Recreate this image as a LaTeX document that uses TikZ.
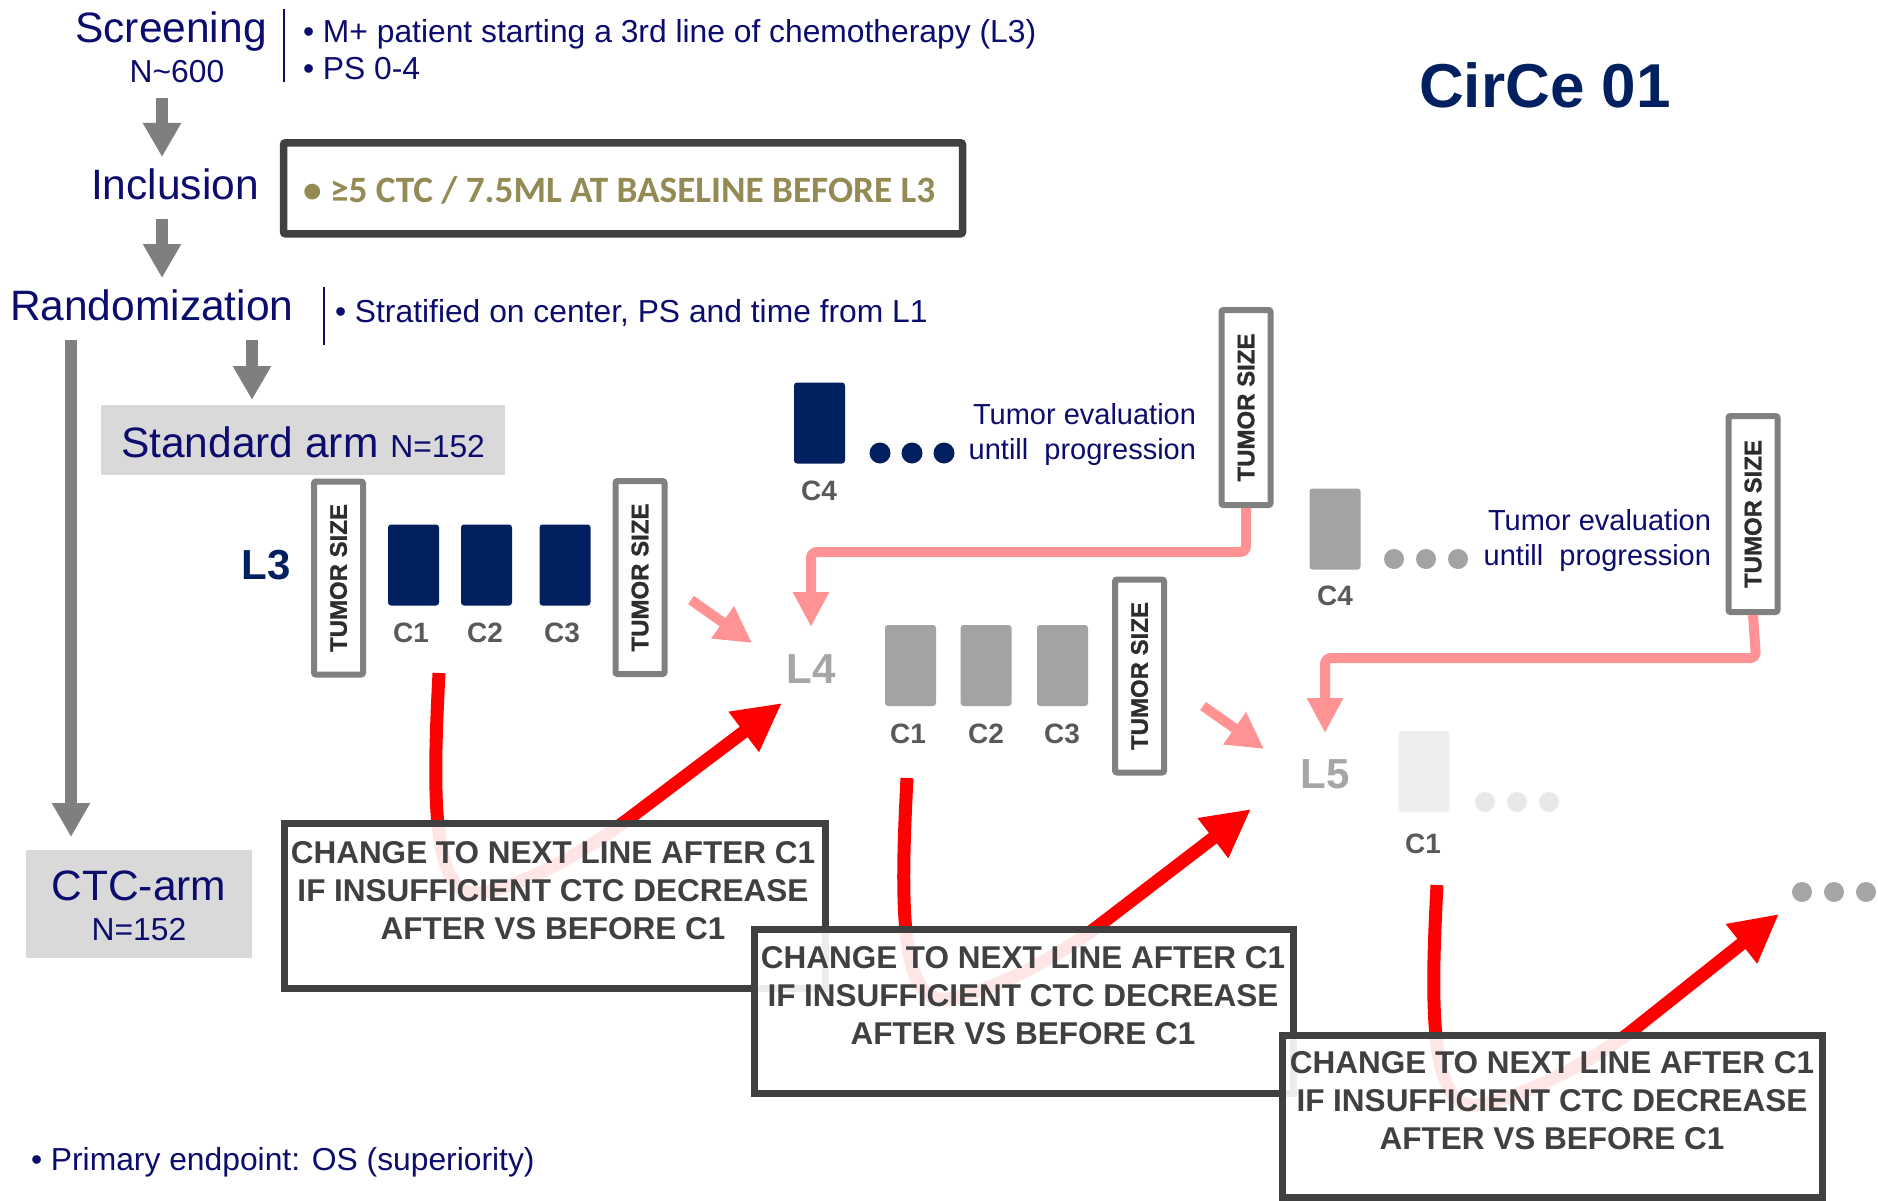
\documentclass[tikz,border=0pt]{standalone}
\usepackage{fontspec}
\setmainfont{Liberation Sans}
\newfontfamily\calib{Carlito}
\newfontface\tsfont{Liberation Sans Bold}[FakeBold=1.2]
\usetikzlibrary{arrows.meta}
\definecolor{navytxt}{RGB}{12,12,110}
\definecolor{navyfill}{RGB}{0,32,96}
\definecolor{arrowgray}{RGB}{127,127,127}
\definecolor{darkbox}{RGB}{64,64,64}
\definecolor{olive}{RGB}{148,138,84}
\definecolor{pinkc}{RGB}{255,147,147}
\definecolor{armfill}{RGB}{217,217,217}
\definecolor{tsgray}{RGB}{128,128,128}
\definecolor{labgray}{RGB}{89,89,89}
\definecolor{cycgray}{RGB}{163,163,163}
\definecolor{lgray}{RGB}{166,166,166}
\definecolor{paler}{RGB}{238,238,238}
\definecolor{palerdot}{RGB}{232,232,232}
\definecolor{tstxt}{RGB}{45,45,45}
\tikzset{
  txt/.style={inner sep=0pt, outer sep=0pt, text=navytxt},
  bigf/.style={font=\fontsize{42.5}{50}\selectfont},
  midf/.style={font=\fontsize{31.8}{37}\selectfont},
  grayarrow/.style={draw=arrowgray, line width=11.5pt, -{Triangle[length=34pt,width=36pt]}},
  navyrule/.style={draw=navytxt, line width=2.5pt},
  tsbox/.style={draw=tsgray, line width=6pt, fill=white, rounded corners=2pt, minimum width=49pt, minimum height=193pt, inner sep=0pt, text=tstxt, font=\tsfont\fontsize{24}{28}\selectfont},
  cyc/.style={rounded corners=3pt, minimum width=51pt, minimum height=81pt, inner sep=0pt},
  clab/.style={inner sep=0pt, text=labgray, font=\fontsize{28}{32}\selectfont\bfseries, anchor=base},
  dotn/.style={circle, minimum size=21pt, inner sep=0pt},
  lineid/.style={inner sep=0pt, font=\fontsize{42}{50}\selectfont\bfseries, anchor=base},
  evaltxt/.style={txt, font=\fontsize{29}{35}\selectfont, anchor=base east},
  chgbox/.style={draw=darkbox, line width=7pt, fill=white, fill opacity=0.9, draw opacity=1, inner sep=0pt},
  chgtxt/.style={inner sep=0pt, align=center, text=darkbox, font=\fontsize{31.5}{38}\selectfont\bfseries},
  redcurve/.style={draw=red, line width=13pt, -{Triangle[length=48pt,width=47pt]}},
  pinkarrow/.style={draw=pinkc, line width=10pt, -{Triangle[length=36pt,width=37pt]}},
  pinkelbow/.style={draw=pinkc, line width=10pt, rounded corners=6pt, -{Triangle[length=35pt,width=34pt]}},
}
\begin{document}
\begin{tikzpicture}[x=1pt,y=-1pt]
\fill[white] (0,0) rectangle (1878,1201);
\useasboundingbox (0,0) rectangle (1878,1201);

% ---------- red curves (under the boxes) ----------
\coordinate (rc1s) at (439,673);
\coordinate (rc1t) at (782,703);
\coordinate (rc2s) at (907,778);
\coordinate (rc2t) at (1251,809);
\coordinate (rc3s) at (1437,885);
\coordinate (rc3t) at (1779,914);
\draw[redcurve] (rc1s) .. controls (433,790) and (430,900) .. (480,893)
  .. controls (520,887) and (580,855) .. (627,820) -- (rc1t);
\draw[redcurve] (rc2s) .. controls (901,895) and (898,1006) .. (947,999)
  .. controls (987,993) and (1050,962) .. (1097,927) -- (rc2t);
\draw[redcurve] (rc3s) .. controls (1431,1000) and (1428,1112) .. (1478,1105)
  .. controls (1518,1099) and (1580,1068) .. (1628,1034) -- (rc3t);

% ---------- decision boxes ----------
\node[chgbox, minimum width=541pt, minimum height=165pt] (cb1) at (555,906) {};
\node[chgbox, minimum width=539pt, minimum height=164pt] (cb2) at (1024,1011) {};
\node[chgbox, minimum width=540pt, minimum height=162pt] (cb3) at (1552.5,1116.5) {};
\node[chgtxt] (cb1t) at (553,891) {CHANGE TO NEXT LINE AFTER C1\\IF INSUFFICIENT CTC DECREASE\\AFTER VS BEFORE C1};
\node[chgtxt] (cb2t) at (1023,996) {CHANGE TO NEXT LINE AFTER C1\\IF INSUFFICIENT CTC DECREASE\\AFTER VS BEFORE C1};
\node[chgtxt] (cb3t) at (1552,1101) {CHANGE TO NEXT LINE AFTER C1\\IF INSUFFICIENT CTC DECREASE\\AFTER VS BEFORE C1};

% ---------- header ----------
\node[txt, bigf, anchor=base] (scr) at (171,43) {Screening};
\node[txt, midf, anchor=base] (n600) at (177,83) {N\textasciitilde600};
\draw[navyrule] (284,9) -- (284,82);
\node[txt, midf, anchor=base west] (crit1) at (303,43) {\textbullet\ M+ patient starting a 3rd line of chemotherapy (L3)};
\node[txt, midf, anchor=base west] (crit2) at (303,80) {\textbullet\ PS 0-4};

\node[txt, bigf, anchor=base] (incl) at (175,200) {Inclusion};
\node[draw=darkbox, line width=7.5pt, rounded corners=2pt, minimum width=679pt, minimum height=91pt, inner sep=0pt] (inclbox) at (623,188.3) {};
\node[inner sep=0pt, anchor=base west, text=olive, font=\calib\fontsize{37.2}{42}\selectfont\bfseries] (incltxt) at (303,202) {\textbullet\ ≥5 CTC / 7.5ML AT BASELINE BEFORE L3};

\node[txt, bigf, anchor=base west] (rand) at (10,320) {Randomization};
\draw[navyrule] (324,287) -- (324,345);
\node[txt, midf, anchor=base west] (strat) at (335,322) {\textbullet\ Stratified on center, PS and time from L1};

\node[inner sep=0pt, anchor=base, text=navyfill, font=\fontsize{62}{70}\selectfont\bfseries] (title) at (1545,108) {CirCe 01};

% gray arrows
\coordinate (ga1s) at (162,98);  \coordinate (ga1t) at (162,157);
\coordinate (ga2s) at (162,219); \coordinate (ga2t) at (162,278);
\coordinate (ga3s) at (71,340);  \coordinate (ga3t) at (71,837);
\coordinate (ga4s) at (252,340); \coordinate (ga4t) at (252,400);
\draw[grayarrow] (ga1s) -- (ga1t);
\draw[grayarrow] (ga2s) -- (ga2t);
\draw[grayarrow] (ga3s) -- (ga3t);
\draw[grayarrow] (ga4s) -- (ga4t);

% arms
\node[fill=armfill, minimum width=404pt, minimum height=70pt, inner sep=0pt] (std) at (303,440) {};
\node[txt, bigf, anchor=base west] (stdt) at (121,457) {Standard arm {\fontsize{31.8}{37}\selectfont N=152}};
\node[fill=armfill, minimum width=226pt, minimum height=108pt, inner sep=0pt] (ctc) at (139,904) {};
\node[txt, bigf, anchor=base] (ctct) at (139,900) {CTC-arm};
\node[txt, midf, anchor=base] (ctcn) at (139,940) {N=152};

% ---------- L3 ----------
\node[lineid, text=navyfill] (l3) at (266,579) {L3};
\node[tsbox] (ts1) at (338.5,578) {\rotatebox{90}{TUMOR SIZE}};
\node[cyc, fill=navyfill] (l3c1) at (413.5,565) {};
\node[cyc, fill=navyfill] (l3c2) at (486.5,565) {};
\node[cyc, fill=navyfill] (l3c3) at (565,565) {};
\node[clab] (l3c1t) at (411,642) {C1};
\node[clab] (l3c2t) at (485,642) {C2};
\node[clab] (l3c3t) at (562,642) {C3};
\node[tsbox] (ts2) at (640,577.5) {\rotatebox{90}{TUMOR SIZE}};

\node[cyc, fill=navyfill] (l3c4) at (819.5,423) {};
\node[clab] (l3c4t) at (819,500) {C4};
\node[dotn, fill=navyfill] (nd1) at (880,453) {};
\node[dotn, fill=navyfill] (nd2) at (912,453) {};
\node[dotn, fill=navyfill] (nd3) at (944,453) {};
\node[evaltxt] (ev1a) at (1196,424) {Tumor evaluation};
\node[evaltxt] (ev1b) at (1196,459) {untill~~progression};
\node[tsbox, minimum height=195pt] (ts3) at (1246,407.5) {\rotatebox{90}{TUMOR SIZE}};

% ---------- L4 ----------
\node[lineid, text=lgray] (l4) at (811,683) {L4};
\coordinate (l4tip) at (811,627);
\draw[pinkelbow] (ts3.south) -- (1246,552) -| (l4tip);
\coordinate (pa1s) at (691,600); \coordinate (pa1t) at (752,643);
\draw[pinkarrow] (pa1s) -- (pa1t);
\node[cyc, fill=cycgray] (l4c1) at (910.5,665.5) {};
\node[cyc, fill=cycgray] (l4c2) at (986,665.5) {};
\node[cyc, fill=cycgray] (l4c3) at (1062.5,665.5) {};
\node[clab] (l4c1t) at (908,743) {C1};
\node[clab] (l4c2t) at (986,743) {C2};
\node[clab] (l4c3t) at (1062,743) {C3};
\node[tsbox] (ts4) at (1139.5,676) {\rotatebox{90}{TUMOR SIZE}};

\node[cyc, fill=cycgray] (l4c4) at (1335,529) {};
\node[clab] (l4c4t) at (1335,605) {C4};
\node[dotn, fill=cycgray, minimum size=20pt] (gd1) at (1394,559) {};
\node[dotn, fill=cycgray, minimum size=20pt] (gd2) at (1426,559) {};
\node[dotn, fill=cycgray, minimum size=20pt] (gd3) at (1458,559) {};
\node[evaltxt] (ev2a) at (1711,530) {Tumor evaluation};
\node[evaltxt] (ev2b) at (1711,565) {untill~~progression};
\node[tsbox, minimum height=196pt] (ts5) at (1753,514) {\rotatebox{90}{TUMOR SIZE}};

% ---------- L5 ----------
\node[lineid, text=lgray] (l5) at (1325,788) {L5};
\coordinate (l5tip) at (1325,733);
\draw[pinkelbow] (ts5.south) -- (1756,658) -| (l5tip);
\coordinate (pa2s) at (1203,706); \coordinate (pa2t) at (1264,749);
\draw[pinkarrow] (pa2s) -- (pa2t);
\node[cyc, fill=paler] (l5c1) at (1424,771.5) {};
\node[clab] (l5c1t) at (1423,853) {C1};
\node[dotn, fill=palerdot, minimum size=20pt] (pd1) at (1485,802) {};
\node[dotn, fill=palerdot, minimum size=20pt] (pd2) at (1517,802) {};
\node[dotn, fill=palerdot, minimum size=20pt] (pd3) at (1549,802) {};

\node[dotn, fill=lgray, minimum size=20pt] (rd1) at (1802,892) {};
\node[dotn, fill=lgray, minimum size=20pt] (rd2) at (1834,892) {};
\node[dotn, fill=lgray, minimum size=20pt] (rd3) at (1866,892) {};

% footer
\node[txt, midf, anchor=base west] (prim) at (31,1170) {\textbullet\ Primary endpoint: OS (superiority)};
\end{tikzpicture}
\end{document}
